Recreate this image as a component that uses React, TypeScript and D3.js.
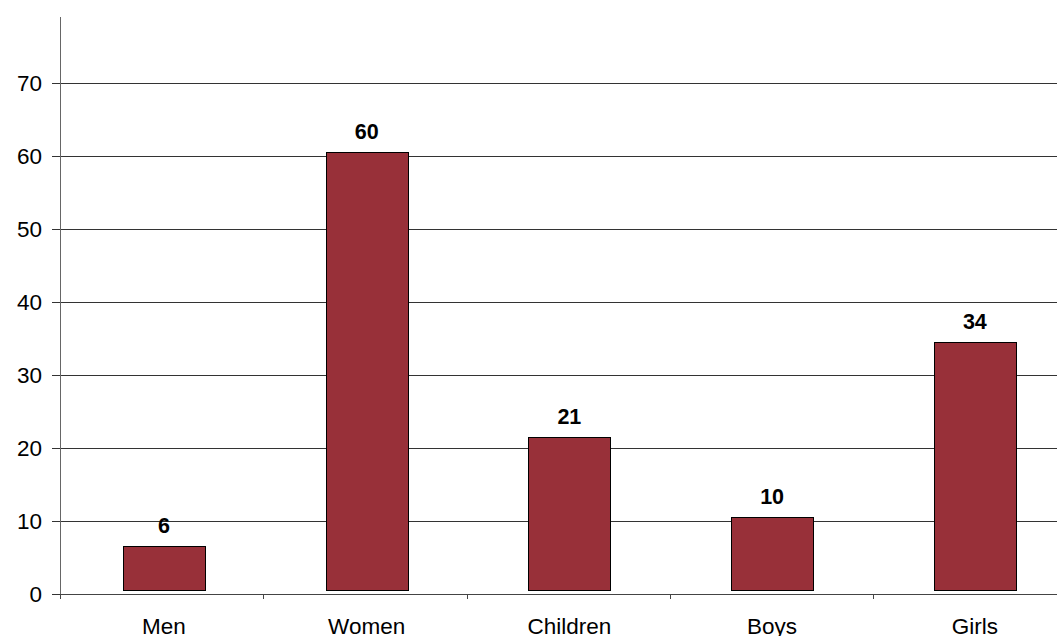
import React from "react";
import * as d3 from "d3";

const categories = ["Men", "Women", "Children", "Boys", "Girls"];
const values = [6, 60, 21, 10, 34];
const yTicks = [0, 10, 20, 30, 40, 50, 60, 70];

const W = 1057;
const H = 636;
const font = "'Liberation Sans', Arial, sans-serif";

export default function App() {
  const x0 = 60;
  const step = 203.35;
  const xScale = d3
    .scaleBand<string>()
    .domain(categories)
    .range([x0, x0 + step * categories.length])
    .paddingInner(0.595)
    .paddingOuter(0.305);
  const yScale = d3.scaleLinear().domain([0, 79]).range([594, 17]);
  const y0 = yScale(0);
  const barLift = 4;
  const xRight = x0 + step * categories.length;

  return (
    <div style={{ position: "absolute", left: 0, top: 0 }}>
      <svg width={W} height={H} style={{ display: "block", background: "#fff" }}>
        {yTicks.filter((t) => t > 0).map((t) => (
          <line key={"g" + t} x1={x0} x2={xRight} y1={Math.round(yScale(t)) + 0.5} y2={Math.round(yScale(t)) + 0.5} stroke="#333" strokeWidth={1} />
        ))}
        {categories.map((c, i) => {
          const v = values[i];
          const x = xScale(c)!;
          const top = yScale(v) - barLift;
          return (
            <g key={c}>
              <rect x={Math.round(x) + 1.5} y={Math.round(top) + 0.5} width={Math.round(xScale.bandwidth())} height={Math.round(y0 - yScale(v))} fill="#983039" stroke="#000" strokeWidth={1} />
              <text x={x + 1 + xScale.bandwidth() / 2} y={top - 13} textAnchor="middle" fontFamily={font} fontWeight="bold" fontSize={21.5} fill="#000">
                {v}
              </text>
            </g>
          );
        })}
        <line x1={x0 + 0.5} x2={x0 + 0.5} y1={yScale(79)} y2={y0 + 4} stroke="#666" strokeWidth={1} />
        {yTicks.map((t) => (
          <g key={"t" + t}>
            <line x1={x0 - 8} x2={x0} y1={Math.round(yScale(t)) + 0.5} y2={Math.round(yScale(t)) + 0.5} stroke="#333" strokeWidth={1} />
            <text x={42} y={yScale(t)} dy="0.35em" textAnchor="end" fontFamily={font} fontSize={22.5} fill="#000">
              {t}
            </text>
          </g>
        ))}
        <line x1={x0} x2={xRight} y1={Math.round(y0) + 0.5} y2={Math.round(y0) + 0.5} stroke="#444" strokeWidth={1} />
        {categories.map((c, i) => (
          <line key={"xt" + c} x1={Math.round(x0 + step * i) + 0.5} x2={Math.round(x0 + step * i) + 0.5} y1={y0} y2={y0 + 5} stroke="#444" strokeWidth={1} />
        ))}
        {categories.map((c) => (
          <text key={"xl" + c} x={xScale(c)! + 1 + xScale.bandwidth() / 2} y={634} textAnchor="middle" fontFamily={font} fontSize={22.5} fill="#000">
            {c}
          </text>
        ))}
      </svg>
    </div>
  );
}
